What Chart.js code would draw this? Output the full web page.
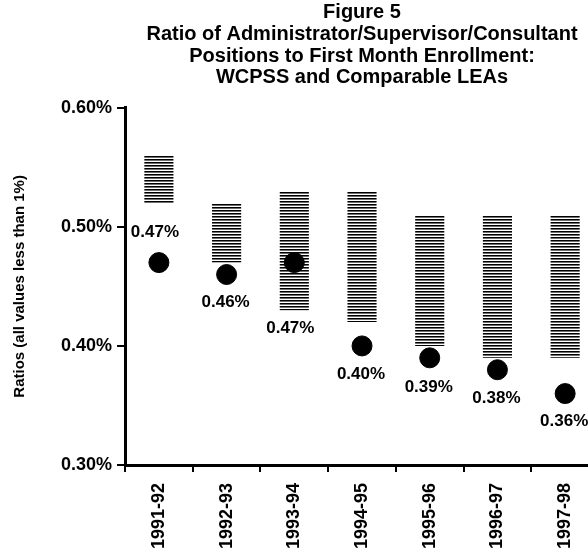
<!DOCTYPE html>
<html>
<head>
<meta charset="utf-8">
<script src="https://cdn.jsdelivr.net/npm/chart.js@4.4.1/dist/chart.umd.min.js"></script>
<style>
    html, body { margin: 0; padding: 0; background: #fff; overflow: hidden; }
    #wrap { width: 588px; height: 554px; overflow: hidden; }
</style>
</head>
<body>
<div id="wrap"><canvas id="ratioChart" width="610" height="554"></canvas></div>
<script>
// school years on the x axis
const years = ["1991-92", "1992-93", "1993-94", "1994-95", "1995-96", "1996-97", "1997-98"];
// range of the comparable LEAs (low, high), in percent
const leaLow = [0.52, 0.47, 0.43, 0.42, 0.40, 0.39, 0.39];
const leaHigh = [0.56, 0.52, 0.53, 0.53, 0.51, 0.51, 0.51];
// WCPSS ratio, in percent
const wcpss = [0.47, 0.46, 0.47, 0.40, 0.39, 0.38, 0.36];
// y axis ticks
const yTicks = [0.30, 0.40, 0.50, 0.60];

const titleLines = [
    "Figure 5",
    "Ratio of Administrator/Supervisor/Consultant",
    "Positions to First Month Enrollment:",
    "WCPSS and Comparable LEAs",
];

const FONT = "Arial, 'Liberation Sans', sans-serif";

// striped fill for the range bars
function stripes() {
    const c = document.createElement("canvas");
    c.width = 4;
    c.height = 3;
    const g = c.getContext("2d");
    g.fillStyle = "#000";
    g.fillRect(0, 0, 4, 1);
    g.fillStyle = "#6e6e6e";
    g.fillRect(0, 1, 4, 1);
    g.fillStyle = "#fff";
    g.fillRect(0, 2, 4, 1);
    return g.createPattern(c, "repeat");
}

// where each WCPSS label sits relative to its dot
const labelShift = [
    [-4, -30], [-1, 28], [-4, 66], [-1, 28], [-1, 29], [-1, 29], [-1, 28],
];

const dotLabels = {
    id: "dotLabels",
    afterDatasetsDraw(chart) {
        const ctx = chart.ctx;
        const meta = chart.getDatasetMeta(1);
        ctx.save();
        ctx.font = "bold 17px " + FONT;
        ctx.fillStyle = "#000";
        ctx.textAlign = "center";
        ctx.textBaseline = "middle";
        meta.data.forEach((pt, i) => {
            const s = labelShift[i];
            ctx.fillText(wcpss[i].toFixed(2) + "%", pt.x + s[0], pt.y + s[1]);
        });
        ctx.restore();
    },
};

const ctx = document.getElementById("ratioChart").getContext("2d");

new Chart(ctx, {
    data: {
        labels: years,
        datasets: [
            {
                type: "bar",
                label: "Comparable LEAs",
                data: years.map((y, i) => [leaLow[i], leaHigh[i]]),
                backgroundColor: stripes(),
                borderWidth: 0,
                barPercentage: 0.43,
                categoryPercentage: 1,
                order: 2,
            },
            {
                type: "line",
                label: "WCPSS",
                data: wcpss,
                showLine: false,
                pointRadius: 10,
                pointHoverRadius: 10,
                pointBackgroundColor: "#000",
                pointBorderColor: "#000",
                order: 1,
            },
        ],
    },
    options: {
        responsive: false,
        animation: false,
        layout: {
            padding: { left: 7, right: 9, top: 2, bottom: 2 },
        },
        plugins: {
            legend: { display: false },
            tooltip: { enabled: false },
            title: {
                display: true,
                fullSize: false,
                text: titleLines,
                color: "#000",
                font: { family: FONT, size: 20, weight: "bold", lineHeight: 1.085 },
                padding: { top: 0, bottom: 19 },
            },
        },
        scales: {
            x: {
                offset: true,
                afterFit(scale) {
                    scale.height = 87;
                },
                grid: {
                    offset: true,
                    drawOnChartArea: false,
                    color: "#000",
                    lineWidth: 2,
                    tickLength: 7,
                },
                border: { color: "#000", width: 3 },
                ticks: {
                    color: "#000",
                    autoSkip: false,
                    maxRotation: 90,
                    minRotation: 90,
                    padding: 11,
                    font: { family: FONT, size: 18, weight: "bold" },
                },
            },
            y: {
                min: yTicks[0],
                max: yTicks[yTicks.length - 1],
                afterBuildTicks(scale) {
                    scale.ticks = yTicks.map((v) => ({ value: v }));
                },
                grid: {
                    drawOnChartArea: false,
                    color: "#000",
                    lineWidth: 2,
                    tickLength: 8,
                },
                border: { color: "#000", width: 3 },
                ticks: {
                    color: "#000",
                    padding: 5,
                    font: { family: FONT, size: 18, weight: "bold" },
                    callback: (v) => Number(v).toFixed(2) + "%",
                },
                title: {
                    display: true,
                    text: "Ratios (all values less than 1%)",
                    color: "#000",
                    padding: { top: 4, bottom: 27 },
                    font: { family: FONT, size: 15, weight: "bold" },
                },
            },
        },
    },
    plugins: [dotLabels],
});
</script>
</body>
</html>
